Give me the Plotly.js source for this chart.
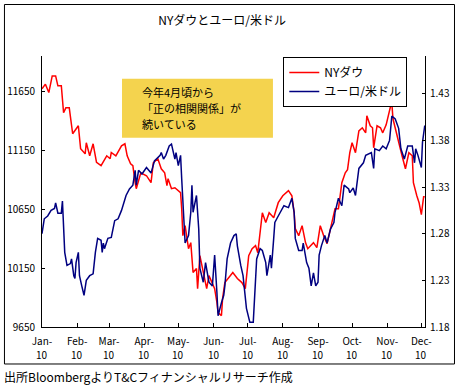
<!DOCTYPE html>
<html>
<head>
<meta charset="utf-8">
<script src="https://cdn.plot.ly/plotly-3.0.1.min.js"></script>
<style>html,body{margin:0;padding:0;background:#fff;}#chart{width:457px;height:385px;}</style>
</head>
<body>
<div id="chart"></div>
<script>
// Day offsets from 2010-01-01 and values
const redName = "NYダウ";
const redDays = [0,3,6,9,12,14,17,19,21,24,27,32,34,38,39,42,45,48,52,57,60,61,65,70,73,75,78,80,82,83,87,92,96,98,102,105,108,110,111,114,117,122,123,124,126,129,131,133,136,137,139,142,145,147,150,152,154,155,158,159,161,166,168,172,176,179,180,182,185,188,190,194,197,200,204,208,212,217,220,222,223,226,229,232,234,239,242,245,248,251,254,258,261,264,267,269,271,273,276,279,282,285,286,289,291,292,295,298,300,303,307,308,309,312,315,317,320,323,326,327,330,332,334,336,337];
const redVals = [11671,11711,11640,11781,11781,11697,11697,11468,11510,11510,11290,11358,11163,11120,11214,11103,11205,11047,11019,11103,11078,11131,11103,11188,11205,11103,11036,11019,10875,10824,10959,10934,10875,11044,11078,10993,10959,10849,10909,10824,10832,10790,10654,10425,10510,10315,10366,10112,10146,9976,10256,10112,9976,10086,10027,9976,9858,9773,9747,9892,10027,10086,10112,10061,10027,9976,10053,10256,10315,10341,10281,10620,10536,10620,10578,10705,10764,10807,10764,10620,10485,10425,10510,10366,10315,10366,10324,10510,10425,10358,10485,10654,10654,10875,10959,10985,11129,11214,11129,11315,11341,11298,11442,11358,11341,11171,11358,11341,11298,11366,11527,11553,11417,11298,11163,11103,10993,11129,11103,10875,10764,10705,10603,10756,10756];

const blueName = "ユーロ/米ドル";
const blueDays = [0,2,5,8,11,12,14,17,18,19,20,22,25,26,28,29,30,32,33,35,37,39,42,45,47,49,52,53,54,55,58,61,64,67,70,74,77,80,82,83,85,88,92,96,99,104,105,107,109,112,114,117,118,120,122,123,125,126,129,131,132,133,136,138,139,142,144,147,150,152,154,155,158,160,161,163,166,169,171,172,175,177,180,183,186,188,189,192,194,197,198,201,202,204,205,208,213,217,220,222,223,226,229,230,233,235,237,239,241,243,244,246,249,251,254,257,258,261,264,266,270,271,274,276,279,283,285,290,292,293,297,300,303,306,308,311,314,316,319,322,326,328,329,331,334,335,337];
const blueVals = [1.280,1.296,1.299,1.305,1.307,1.313,1.302,1.302,1.315,1.292,1.260,1.246,1.248,1.253,1.235,1.232,1.249,1.260,1.235,1.224,1.214,1.230,1.235,1.237,1.260,1.275,1.273,1.260,1.270,1.264,1.275,1.276,1.294,1.296,1.305,1.321,1.328,1.332,1.348,1.332,1.348,1.344,1.351,1.345,1.358,1.364,1.367,1.360,1.364,1.374,1.376,1.360,1.367,1.353,1.364,1.339,1.299,1.270,1.278,1.303,1.332,1.303,1.321,1.285,1.243,1.228,1.249,1.228,1.224,1.257,1.217,1.192,1.206,1.214,1.224,1.253,1.270,1.278,1.280,1.267,1.246,1.235,1.200,1.185,1.185,1.224,1.253,1.264,1.262,1.249,1.235,1.257,1.243,1.275,1.292,1.299,1.310,1.308,1.318,1.303,1.275,1.262,1.262,1.270,1.249,1.243,1.224,1.238,1.224,1.228,1.257,1.267,1.278,1.270,1.285,1.292,1.303,1.318,1.310,1.332,1.328,1.324,1.329,1.321,1.350,1.356,1.364,1.367,1.350,1.371,1.369,1.374,1.371,1.380,1.406,1.403,1.393,1.371,1.360,1.374,1.374,1.356,1.371,1.364,1.351,1.378,1.396];

const monthTicks = ["2010-01-01","2010-02-01","2010-03-01","2010-04-01","2010-05-01","2010-06-01","2010-07-01","2010-08-01","2010-09-01","2010-10-01","2010-11-01","2010-12-01"];
const monthLabels = ["Jan-","Feb-","Mar-","Apr-","May-","Jun-","Jul-","Aug-","Sep-","Oct-","Nov-","Dec-"];
const yearLabel = "10";
const leftTicks = [9650,10150,10650,11150,11650];
const rightTicks = [1.18,1.23,1.28,1.33,1.38,1.43];

const titleText = "NYダウとユーロ/米ドル";
const noteLines = ["今年4月頃から","「正の相関関係」が","続いている"];
const sourceText = "出所BloombergよりT&Cフィナンシャルリサーチ作成";

function toDate(d){
  return new Date(Date.UTC(2010,0,1) + d*86400000).toISOString().slice(0,10);
}

const FONT = '"Noto Sans CJK JP", "Noto Sans", sans-serif';

const traces = [
  {x: redDays.map(toDate), y: redVals, name: redName, type:'scatter', mode:'lines',
   line:{color:'#FF0000', width:1.5}, yaxis:'y'},
  {x: blueDays.map(toDate), y: blueVals, name: blueName, type:'scatter', mode:'lines',
   line:{color:'#000080', width:1.5}, yaxis:'y2'}
];

const annotations = [];
// year row under month labels, placed at each month tick through the x scale
monthTicks.forEach(function(t){
  annotations.push({text:yearLabel, xref:'x', yref:'paper', x:t, y:-0.1033, xanchor:'center', yanchor:'middle',
    showarrow:false, font:{family:FONT, size:10, color:'#000'}});
});
// note box text lines
const noteY = [0.867, 0.808, 0.749];
noteLines.forEach(function(s,i){
  annotations.push({text:s, xref:'paper', yref:'paper', x:0.256, y:noteY[i], xanchor:'left', yanchor:'middle',
    align:'left', showarrow:false, font:{family:FONT, size:11, color:'#000'}});
});
annotations.push({text:sourceText, xref:'paper', yref:'paper', x:-0.1044, y:-0.181, xanchor:'left', yanchor:'middle',
  showarrow:false, font:{family:FONT, size:12, color:'#000'}});

const layout = {
  width:457, height:385,
  margin:{l:42, r:32, t:56, b:58},
  paper_bgcolor:'#fff', plot_bgcolor:'#fff',
  font:{family:FONT, size:10, color:'#000'},
  showlegend:true,
  title:{text:titleText, font:{family:FONT, size:12, color:'#000'},
         xref:'container', x:0.486, xanchor:'center', yref:'container', y:0.945, yanchor:'middle'},
  xaxis:{type:'date', range:['2010-01-01','2010-12-04 05:00'],
         tickmode:'array', tickvals:monthTicks, ticktext:monthLabels,
         ticks:'inside', ticklen:4, tickcolor:'#000', tickwidth:1,
         showline:true, linecolor:'#000', linewidth:1, showgrid:false, zeroline:false,
         ticklabelstandoff:5,
         tickfont:{family:FONT, size:10, color:'#000'}, fixedrange:true},
  yaxis:{range:[9650,11950], tickmode:'array', tickvals:leftTicks, ticktext:leftTicks.map(String),
         ticks:'inside', ticklen:3, tickcolor:'#000', showline:true, linecolor:'#000', linewidth:1,
         showgrid:false, zeroline:false, ticklabelstandoff:4,
         tickfont:{family:FONT, size:10, color:'#000'}},
  yaxis2:{range:[1.18,1.4705], overlaying:'y', side:'right', tickmode:'array', tickvals:rightTicks,
          ticktext:rightTicks.map(v=>v.toFixed(2)),
          ticks:'inside', ticklen:3, tickcolor:'#000', showline:true, linecolor:'#000', linewidth:1,
          showgrid:false, zeroline:false, ticklabelstandoff:2,
          tickfont:{family:FONT, size:10, color:'#000'}},
  legend:{x:0.63, xanchor:'left', y:0.996, yanchor:'top', bgcolor:'#fff', bordercolor:'#000', borderwidth:1,
          font:{family:FONT, size:12, color:'#000'}, tracegroupgap:0},
  shapes:[
    {type:'rect', xref:'paper', yref:'paper', x0:-0.098, x1:1.077, y0:-0.1365, y1:1.19,
     line:{color:'#000', width:1}, fillcolor:'rgba(0,0,0,0)', layer:'below'},
    {type:'rect', xref:'paper', yref:'paper', x0:0.2089, x1:0.603, y0:0.6985, y1:0.916,
     line:{width:0}, fillcolor:'#F4D34E', layer:'above'}
  ],
  annotations: annotations
};

Plotly.newPlot('chart', traces, layout, {staticPlot:true, displayModeBar:false});
</script>
</body>
</html>
